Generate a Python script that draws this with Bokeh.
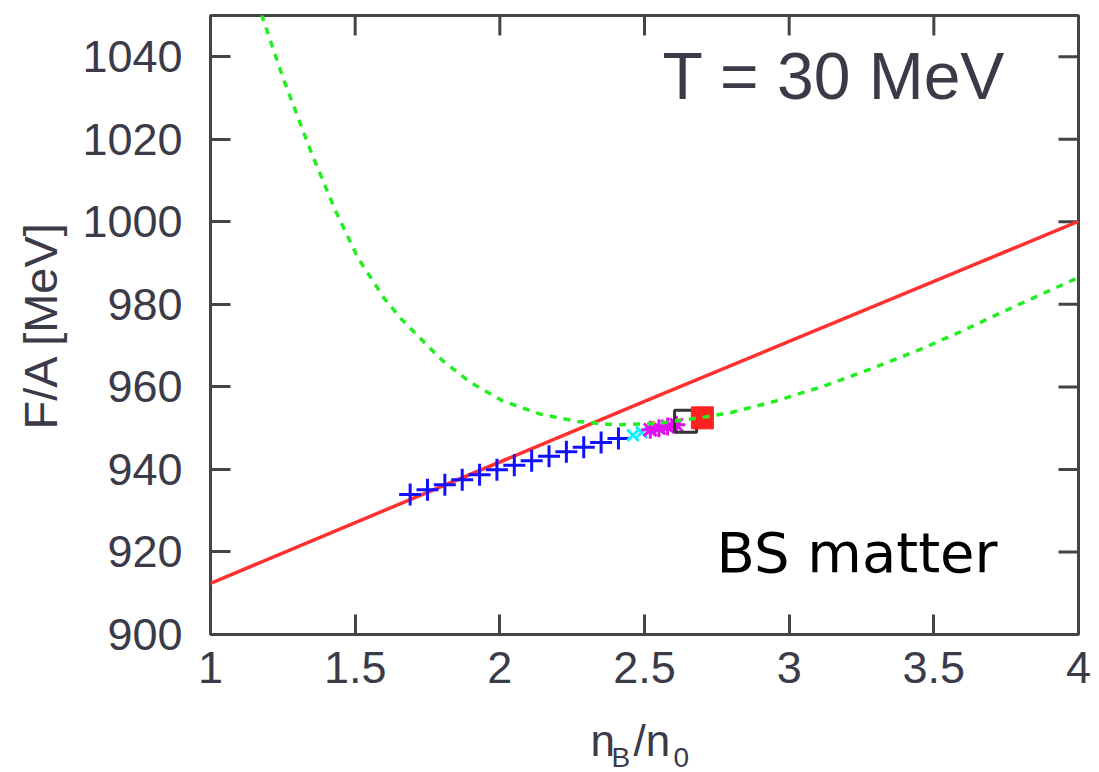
from bokeh.plotting import figure
from bokeh.models import Range1d, FixedTicker, Label
from bokeh.layouts import column
from bokeh.core.properties import value
from bokeh.embed import file_html
from bokeh.resources import INLINE

# ---- data ----
x_ticks = [1, 1.5, 2, 2.5, 3, 3.5, 4]
x_tick_labels = ["1", "1.5", "2", "2.5", "3", "3.5", "4"]
y_ticks = [900, 920, 940, 960, 980, 1000, 1020, 1040]
y_tick_labels = ["900", "920", "940", "960", "980", "1000", "1020", "1040"]

red_n = [1.0, 2.5, 4.0]
red_F = [912.4, 956.5, 1000.1]

green_n = [1.16, 1.18, 1.25, 1.35, 1.43, 1.51, 1.60, 1.66, 1.80, 1.90, 2.01, 2.14,
           2.27, 2.40, 2.55, 2.70, 2.80, 2.95, 3.12, 3.28, 3.44, 3.59, 3.73, 3.87, 4.0]
green_F = [1053.5, 1049.5, 1035.0, 1016.5, 1003.0, 991.2, 981.5, 976.4, 966.5, 961.0,
           956.6, 953.4, 951.6, 950.8, 951.2, 952.6, 953.8, 956.5, 960.2, 964.3, 968.7,
           973.3, 977.9, 982.4, 986.5]

blue_n = [1.69, 1.75, 1.81, 1.87, 1.93, 1.99, 2.05, 2.11, 2.17, 2.23, 2.29, 2.35, 2.41]
blue_F = [933.9, 935.1, 936.3, 937.5, 938.7, 939.9, 941.0, 942.1, 943.2, 944.3,
          945.4, 946.5, 947.5]

cyan_n = [2.46, 2.49]
cyan_F = [948.3, 949.0]

magenta_n = [2.52, 2.55, 2.58, 2.61]
magenta_F = [949.6, 950.0, 950.4, 950.8]

orange_n = [2.53, 2.62, 2.72]
orange_F = [951.3, 952.0, 953.2]

black_n = [2.642]
black_F = [951.7]

redsq_n = [2.70]
redsq_F = [952.5]

X0, X1 = 1, 4
Y0, Y1 = 900, 1050

# ---- layout constants ----
W = 1099
H_MAIN = 708
H_LAB = 64
LEFT, RIGHT, TOP, BOTTOM = 210, 21, 15, 74
FRAME_W = W - LEFT - RIGHT
FRAME_H = H_MAIN - TOP - BOTTOM
TICK = 20

tick_color = "#444444"
lab_color = "#3a3a48"
font = "Liberation Sans"

p = figure(width=W, height=H_MAIN, x_range=Range1d(X0, X1), y_range=Range1d(Y0, Y1),
           output_backend="svg", toolbar_location=None,
           min_border_left=LEFT, min_border_right=RIGHT, min_border_top=TOP,
           min_border_bottom=BOTTOM)
p.background_fill_color = "white"
p.border_fill_color = "white"
p.xgrid.visible = False
p.ygrid.visible = False
p.outline_line_color = "#444444"
p.outline_line_width = 3

for ax in (p.xaxis[0], p.yaxis[0]):
    ax.axis_line_color = None
    ax.major_tick_in = TICK
    ax.major_tick_out = 0
    ax.minor_tick_line_color = None
    ax.major_tick_line_color = tick_color
    ax.major_tick_line_width = 3
    ax.major_label_text_font = font
    ax.major_label_text_font_size = "45px"
    ax.major_label_text_color = lab_color

p.xaxis[0].ticker = FixedTicker(ticks=x_ticks)
p.xaxis[0].major_label_overrides = {t: l for t, l in zip(x_ticks, x_tick_labels)}
p.xaxis[0].major_label_standoff = 17
p.yaxis[0].ticker = FixedTicker(ticks=y_ticks)
p.yaxis[0].major_label_overrides = {t: l for t, l in zip(y_ticks, y_tick_labels)}
p.yaxis[0].major_label_standoff = 28
p.yaxis[0].axis_label = "F/A [MeV]"
p.yaxis[0].axis_label_text_font = font
p.yaxis[0].axis_label_text_font_size = "47px"
p.yaxis[0].axis_label_text_font_style = "normal"
p.yaxis[0].axis_label_text_color = lab_color
p.yaxis[0].axis_label_standoff = 12

# mirrored inward ticks on top and right edges
ty = TICK * (Y1 - Y0) / FRAME_H
tx = TICK * (X1 - X0) / FRAME_W
p.segment(x0=x_ticks, y0=[Y1] * len(x_ticks), x1=x_ticks, y1=[Y1 - ty] * len(x_ticks),
          line_color=tick_color, line_width=3)
p.segment(x0=[X1] * len(y_ticks), y0=y_ticks, x1=[X1 - tx] * len(y_ticks), y1=y_ticks,
          line_color=tick_color, line_width=3)

# ---- data marks ----
p.line(red_n, red_F, line_color="#ff3030", line_width=3.5)
p.scatter(blue_n, blue_F, marker="cross", size=22, line_color="#1010ff", line_width=3)
p.scatter(cyan_n, cyan_F, marker="x", size=16, line_color="#10f0ff", line_width=3)
p.scatter(magenta_n, magenta_F, marker="asterisk", size=18, line_color="#e010f0", line_width=3)
p.scatter(orange_n, orange_F, marker="circle", size=4, fill_color="#f0b020", line_color=None)
p.scatter(black_n, black_F, marker="square", size=22, fill_color=None, line_color="#333333", line_width=3)
p.scatter(redsq_n, redsq_F, marker="square", size=22, fill_color="#ff2020", line_color="#ff2020")
p.line(green_n, green_F, line_color="#22ee22", line_width=3.5, line_dash="7 7")

# ---- texts ----
p.add_layout(Label(x=3.748, y=1035.3, text="T = 30 MeV", text_align="right",
                   text_baseline="alphabetic", text_font=font, text_font_size="66px",
                   text_color="#3a3a48"))
p.add_layout(Label(x=2.749, y=919.8, text="BS matter", text_align="left",
                   text_baseline="alphabetic", text_font="DejaVu Sans", text_font_size="56px",
                   text_color="black"))

# ---- x-axis label strip: n_B/n_0 ----
p2 = figure(width=W, height=H_LAB, x_range=p.x_range, y_range=Range1d(0, H_LAB),
            output_backend="svg", toolbar_location=None,
            min_border_left=LEFT, min_border_right=RIGHT, min_border_top=0,
            min_border_bottom=0)
p2.axis.visible = False
p2.grid.visible = False
p2.outline_line_color = None
p2.background_fill_color = "white"
p2.border_fill_color = "white"
p2.text(x=[2.313, 2.462], y=[32, 32], text=["n", "/n"], text_font=value(font),
        text_font_size="44px", text_color=lab_color, text_baseline="alphabetic")
p2.text(x=[2.386, 2.600], y=[15, 15], text=["B", "0"], text_font=value(font),
        text_font_size="28px", text_color=lab_color, text_baseline="alphabetic")

layout = column(p, p2, spacing=0)
open("out.html", "w").write(file_html(layout, INLINE))
